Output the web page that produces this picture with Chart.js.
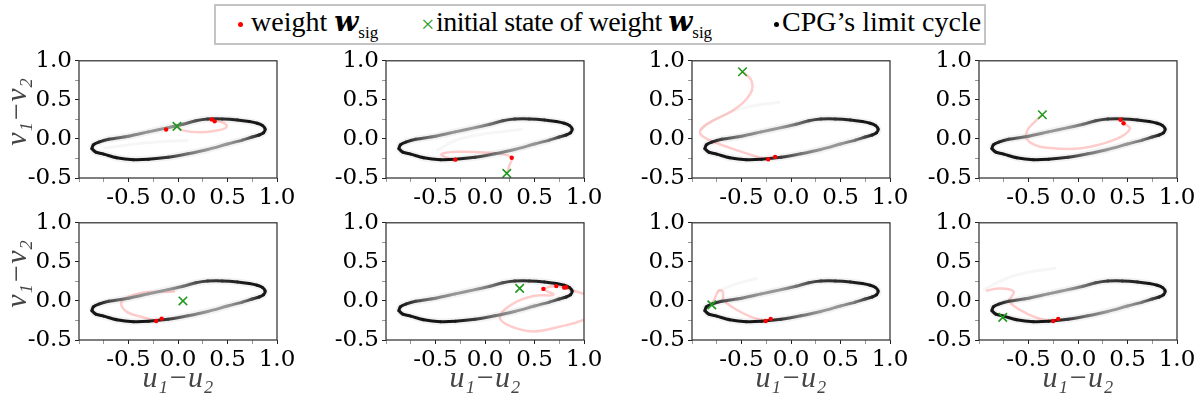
<!DOCTYPE html>
<html>
<head>
<meta charset="utf-8">
<script src="https://cdn.jsdelivr.net/npm/chart.js@4.4.0/dist/chart.umd.min.js"></script>
<style>
body { margin: 0; background: #fff; width: 1202px; height: 401px; overflow: hidden; position: relative; }
canvas { position: absolute; }
#legendBox { position: absolute; left: 214px; top: 4px; width: 768px; height: 37px; border: 2px solid #c4c4c4; }
.lg { position: absolute; top: 8px; font: 28px/28px "Liberation Serif", serif; white-space: nowrap; color: #000; }
.lg .w { font-family: "DejaVu Serif", serif; font-style: italic; font-weight: bold; letter-spacing: 0; }
.lg sub { font-size: 17px; line-height: 0; vertical-align: -7px; letter-spacing: 0; }
.dot { position: absolute; width: 5px; height: 5px; border-radius: 50%; }
.cross { color: #1f9a1f; font-size: 24px; top: 10px; }
</style>
</head>
<body>
<div id="legendBox"></div>
<span class="dot" style="left:238px;top:22px;background:#f00"></span>
<div class="lg" style="left:251px">weight <span class="w">w</span><sub>sig</sub></div>
<div class="lg cross" style="left:421px">×</div>
<div class="lg" style="left:436px;letter-spacing:-0.5px">initial state of weight <span class="w">w</span><sub>sig</sub></div>
<span class="dot" style="left:774px;top:22px;background:#000"></span>
<div class="lg" style="left:782px">CPG’s limit cycle</div>

<script>
// tick labels
var xTicks = [-0.5, 0.0, 0.5, 1.0];
var yTicks = [-0.5, 0.0, 0.5, 1.0];

// CPG limit cycle (same in every panel)
var cycleX = [-0.87, -0.855, -0.80, -0.70, -0.50, -0.30, -0.10, 0.05, 0.18, 0.30, 0.45, 0.60, 0.72, 0.80, 0.855, 0.88, 0.865, 0.82, 0.75, 0.65, 0.50, 0.30, 0.10, -0.10, -0.30, -0.45, -0.62, -0.75, -0.83, -0.87];
var cycleY = [-0.125, -0.075, -0.04, -0.005, 0.035, 0.09, 0.145, 0.187, 0.232, 0.254, 0.256, 0.243, 0.222, 0.20, 0.17, 0.125, 0.08, 0.05, 0.025, -0.015, -0.065, -0.135, -0.19, -0.235, -0.26, -0.265, -0.24, -0.195, -0.17, -0.125];
// how dark the cycle looks at each of its points
var cycleShade = [1, 1, 0.95, 0.8, 0.55, 0.45, 0.45, 0.6, 0.75, 0.85, 0.9, 0.95, 1, 1, 1, 1, 1, 0.95, 0.8, 0.6, 0.45, 0.45, 0.6, 0.85, 1, 1, 1, 1, 1, 1];

// initial state of weight (green x), one per panel
var startX = [-0.01, 0.22, -0.49, -0.36, 0.05, 0.35, -0.80, -0.76];
var startY = [0.16, -0.44, 0.86, 0.31, 0.00, 0.16, -0.05, -0.21];

// final weight states (red dots)
var dotX = [[-0.12, 0.34, 0.37], [-0.30, 0.27], [-0.23, -0.16], [0.43, 0.46], [-0.22, -0.165], [0.59, 0.72, 0.80, 0.82], [-0.256, -0.205], [-0.25, -0.20]];
var dotY = [[0.12, 0.25, 0.225], [-0.265, -0.24], [-0.26, -0.23], [0.246, 0.20], [-0.256, -0.227], [0.154, 0.19, 0.17, 0.175], [-0.256, -0.23], [-0.256, -0.23]];

// weight trajectories (faint red)
var trailX = [
  [-0.01, 0.05, 0.22, 0.40, 0.48, 0.49, 0.43, 0.37],
  [0.22, 0.25, 0.27, 0.15, -0.05, -0.29, -0.44, -0.38, -0.30],
  [-0.49, -0.40, -0.41, -0.58, -0.85, -0.92, -0.85, -0.58, -0.31, -0.23],
  [-0.36, -0.42, -0.52, -0.485, -0.28, 0.05, 0.39, 0.525, 0.46],
  [-0.03, -0.38, -0.57, -0.52, -0.32, -0.22],
  [0.80, 0.90, 1.10, 1.15, 1.00, 0.75, 0.49, 0.25, 0.15, 0.29, 0.49, 0.69, 0.60, 0.72, 0.81],
  [-0.80, -0.76, -0.73, -0.69, -0.68, -0.58, -0.41, -0.26],
  [-0.93, -0.79, -0.65, -0.69, -0.52, -0.35, -0.25]
];
var trailY = [
  [0.16, 0.11, 0.085, 0.11, 0.14, 0.18, 0.22, 0.235],
  [-0.44, -0.33, -0.24, -0.19, -0.17, -0.165, -0.195, -0.245, -0.265],
  [0.86, 0.75, 0.58, 0.37, 0.19, 0.085, 0.00, -0.13, -0.24, -0.26],
  [0.31, 0.24, 0.085, -0.044, -0.117, -0.117, 0.00, 0.129, 0.20],
  [0.12, 0.10, -0.01, -0.137, -0.22, -0.256],
  [0.17, 0.13, 0.03, -0.10, -0.24, -0.33, -0.39, -0.32, -0.20, -0.03, 0.064, 0.08, 0.15, 0.19, 0.17],
  [-0.05, 0.06, 0.13, 0.12, 0.013, -0.09, -0.20, -0.256],
  [0.13, 0.16, 0.12, -0.01, -0.158, -0.24, -0.256]
];

// very faint grey trails
var ghostX = [[-0.75, -0.40, -0.10, 0.10], [-0.49, -0.30, -0.12, 0.15, 0.38], [-0.92, -0.70, -0.40, -0.11], [], [], [], [-0.75, -0.55, -0.34], [-0.96, -0.70, -0.45, -0.22]];
var ghostY = [[-0.12, -0.06, -0.03, -0.02], [-0.15, -0.02, 0.04, 0.09, 0.12], [0.11, 0.30, 0.42, 0.47], [], [], [], [0.12, 0.22, 0.29], [0.14, 0.30, 0.38, 0.42]];

var colLeft = [79, 386, 692, 979];
var rowTop = [61, 223];
var plotW = 198, plotH = 117;

function pts(xs, ys) {
  return xs.map(function (x, k) { return { x: x, y: ys[k] }; });
}

function grey(s) {
  var v = Math.round(255 - s * (255 - 22));
  return 'rgb(' + v + ',' + v + ',' + v + ')';
}

// each piece of the cycle fades from the shade of one point to the next
function cycleColor(ctx) {
  var g = ctx.chart.ctx.createLinearGradient(ctx.p0.x, ctx.p0.y, ctx.p1.x, ctx.p1.y);
  g.addColorStop(0, grey(cycleShade[ctx.p0DataIndex]));
  g.addColorStop(1, grey(cycleShade[ctx.p1DataIndex]));
  return g;
}

var frame = {
  id: 'frame',
  afterDatasetsDraw: function (chart) {
    var a = chart.chartArea, c = chart.ctx;
    c.save();
    c.strokeStyle = '#2a2a2a';
    c.lineWidth = 1.2;
    c.strokeRect(a.left, a.top, a.right - a.left, a.bottom - a.top);
    c.restore();
  }
};

function quarterTicks(s) {
  var t = [];
  for (var v = s.min; v <= s.max + 1e-9; v += 0.25) t.push({ value: Math.round(v * 100) / 100 });
  s.ticks = t;
}

var tickFont = { family: 'DejaVu Serif', size: 23 };
var titleFont = { family: 'Liberation Serif', size: 30, style: 'italic', lineHeight: 1.2 };

function panelConfig(i) {
  var row = Math.floor(i / 4), col = i % 4;
  return {
    type: 'scatter',
    data: {
      datasets: [
        { data: [{ x: startX[i], y: startY[i] }], pointStyle: 'crossRot', pointRadius: 6, borderColor: '#1f9a1f', borderWidth: 1.6, showLine: false },
        { data: pts(dotX[i], dotY[i]), pointRadius: 2.2, backgroundColor: '#f00', borderWidth: 0, showLine: false },
        { data: pts(cycleX, cycleY), showLine: true, pointRadius: 0, borderWidth: 3, tension: 0.3, borderCapStyle: 'round',
          segment: { borderColor: cycleColor, borderDashOffset: function (ctx) { return ctx.p0DataIndex * 0.001; } } },
        { data: pts(trailX[i], trailY[i]), showLine: true, pointRadius: 0, borderColor: 'rgba(255,40,40,0.24)', borderWidth: 2.5, tension: 0.4 },
        { data: pts(cycleX, cycleY), showLine: true, pointRadius: 0, borderWidth: 7, tension: 0.3, borderColor: 'rgba(0,0,0,0.05)' },
        { data: pts(ghostX[i], ghostY[i]), showLine: true, pointRadius: 0, borderWidth: 3, tension: 0.4, borderColor: 'rgba(0,0,0,0.035)' }
      ]
    },
    options: {
      responsive: false,
      animation: false,
      events: [],
      layout: { padding: { top: 14, right: 24, bottom: 0, left: 0 } },
      plugins: { legend: { display: false }, tooltip: { enabled: false } },
      scales: {
        x: {
          type: 'linear', min: -1, max: 1,
          afterBuildTicks: quarterTicks,
          afterFit: function (s) { s.height = row ? 57 : 30; },
          ticks: { autoSkip: false, maxRotation: 0, padding: 2, color: '#000', font: tickFont,
            callback: function (v) { return xTicks.indexOf(v) >= 0 ? v.toFixed(1) : ''; } },
          grid: { drawOnChartArea: false, tickLength: 4, tickColor: function (c) { return xTicks.indexOf(c.tick.value) >= 0 ? '#222' : '#999'; } },
          border: { display: false },
          title: { display: row === 1, text: 'u₁−u₂', color: '#444', font: titleFont, padding: 0 }
        },
        y: {
          type: 'linear', min: -0.5, max: 1,
          afterBuildTicks: quarterTicks,
          afterFit: function (s) { s.width = 79; },
          ticks: { autoSkip: false, padding: 3, color: '#000', font: tickFont,
            callback: function (v) { return yTicks.indexOf(v) >= 0 ? v.toFixed(1) : ''; } },
          grid: { drawOnChartArea: false, tickLength: 4, tickColor: function (c) { return yTicks.indexOf(c.tick.value) >= 0 ? '#222' : '#999'; } },
          border: { display: false },
          title: { display: col === 0, text: '  v₁−v₂', color: '#444', font: titleFont, padding: 0 }
        }
      }
    },
    plugins: [frame]
  };
}

function makePanel(i) {
  var row = Math.floor(i / 4), col = i % 4;
  var w = 79 + plotW + 24, h = 14 + plotH + (row ? 57 : 30);
  var chart, cv;
  for (var pass = 0; pass < 3; pass++) {
    cv = document.createElement('canvas');
    cv.width = w; cv.height = h;
    cv.style.width = w + 'px'; cv.style.height = h + 'px';
    document.body.appendChild(cv);
    chart = new Chart(cv, panelConfig(i));
    var a = chart.chartArea;
    var dw = Math.round(plotW - (a.right - a.left)), dh = Math.round(plotH - (a.bottom - a.top));
    if (dw === 0 && dh === 0) break;
    chart.destroy(); cv.remove();
    w += dw; h += dh;
  }
  cv.style.left = Math.round(colLeft[col] - chart.chartArea.left) + 'px';
  cv.style.top = Math.round(rowTop[row] - chart.chartArea.top) + 'px';
}

for (var i = 0; i < 8; i++) makePanel(i);
</script>
</body>
</html>
